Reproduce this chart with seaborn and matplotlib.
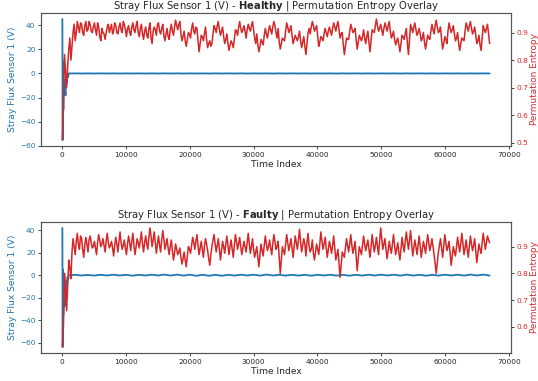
import numpy as np
import pandas as pd
import matplotlib
matplotlib.use("Agg")
import matplotlib.pyplot as plt
import seaborn as sns

# ---------------- data ----------------
PE_STEP = 335  # time-index spacing of permutation entropy samples (main grid)

pe_healthy = [
    0.51, 0.82, 0.70, 0.84, 0.80, 0.90, 0.87, 0.94, 0.90, 0.93,
    0.89, 0.94, 0.91, 0.93, 0.90, 0.935, 0.89, 0.92, 0.87, 0.90,
    0.875, 0.92, 0.90, 0.93, 0.905, 0.925, 0.895, 0.935, 0.90, 0.93,
    0.885, 0.925, 0.89, 0.935, 0.90, 0.94, 0.885, 0.93, 0.875, 0.92,
    0.88, 0.935, 0.86, 0.92, 0.89, 0.935, 0.895, 0.93, 0.87, 0.915,
    0.875, 0.93, 0.89, 0.945, 0.91, 0.94, 0.87, 0.905, 0.85, 0.90,
    0.88, 0.935, 0.895, 0.915, 0.83, 0.89, 0.87, 0.92, 0.845, 0.87,
    0.86, 0.925, 0.90, 0.94, 0.89, 0.92, 0.86, 0.895, 0.835, 0.87,
    0.845, 0.91, 0.89, 0.94, 0.90, 0.925, 0.88, 0.93, 0.905, 0.94,
    0.88, 0.895, 0.83, 0.875, 0.855, 0.915, 0.88, 0.925, 0.895, 0.94,
    0.90, 0.915, 0.84, 0.88, 0.87, 0.935, 0.90, 0.925, 0.86, 0.89,
    0.87, 0.905, 0.845, 0.885, 0.82, 0.90, 0.895, 0.94, 0.905, 0.925,
    0.85, 0.885, 0.87, 0.915, 0.885, 0.92, 0.89, 0.935, 0.905, 0.94,
    0.88, 0.90, 0.82, 0.88, 0.875, 0.93, 0.90, 0.915, 0.84, 0.89,
    0.87, 0.91, 0.86, 0.905, 0.83, 0.91, 0.90, 0.949, 0.905, 0.93,
    0.89, 0.935, 0.905, 0.94, 0.88, 0.905, 0.855, 0.88, 0.83, 0.89,
    0.875, 0.915, 0.82, 0.93, 0.90, 0.935, 0.89, 0.915, 0.87, 0.90,
    0.84, 0.89, 0.875, 0.93, 0.895, 0.945, 0.90, 0.92, 0.84, 0.885,
    0.86, 0.935, 0.90, 0.925, 0.87, 0.90, 0.835, 0.88, 0.87, 0.935,
    0.905, 0.94, 0.895, 0.92, 0.86, 0.89, 0.835, 0.925, 0.90, 0.93,
    0.86,
]
# samples half-way between the main-grid samples
pe_healthy_mid = [
    0.62, 0.76, 0.78, 0.88, 0.85, 0.93, 0.90, 0.92, 0.935, 0.90,
    0.925, 0.905, 0.94, 0.905, 0.92, 0.91, 0.935, 0.885, 0.915, 0.895,
    0.90, 0.93, 0.915, 0.895, 0.935, 0.90, 0.92, 0.91, 0.94, 0.91,
    0.915, 0.90, 0.92, 0.91, 0.925, 0.90, 0.915, 0.895, 0.905, 0.89,
    0.915, 0.88, 0.905, 0.91, 0.93, 0.905, 0.915, 0.89, 0.895, 0.885,
    0.91, 0.905, 0.92, 0.925, 0.93, 0.895, 0.885, 0.87, 0.875, 0.895,
    0.915, 0.905, 0.92, 0.87, 0.86, 0.885, 0.895, 0.875, 0.86, 0.85,
    0.895, 0.915, 0.925, 0.91, 0.905, 0.885, 0.875, 0.86, 0.855, 0.86,
    0.875, 0.905, 0.92, 0.915, 0.91, 0.905, 0.91, 0.915, 0.925, 0.91,
    0.86, 0.855, 0.85, 0.865, 0.89, 0.895, 0.905, 0.91, 0.92, 0.925,
    0.88, 0.865, 0.86, 0.875, 0.905, 0.92, 0.91, 0.89, 0.875, 0.88,
    0.885, 0.87, 0.865, 0.85, 0.86, 0.915, 0.92, 0.925, 0.915, 0.89,
    0.865, 0.88, 0.895, 0.90, 0.905, 0.905, 0.915, 0.92, 0.925, 0.91,
    0.895, 0.855, 0.85, 0.875, 0.905, 0.915, 0.905, 0.875, 0.865, 0.88,
    0.885, 0.88, 0.885, 0.865, 0.87, 0.905, 0.925, 0.925, 0.915, 0.91,
    0.915, 0.92, 0.925, 0.905, 0.89, 0.875, 0.87, 0.855, 0.86, 0.885,
    0.895, 0.86, 0.875, 0.915, 0.92, 0.91, 0.90, 0.895, 0.88, 0.865,
    0.865, 0.88, 0.905, 0.91, 0.925, 0.92, 0.905, 0.875, 0.86, 0.875,
    0.905, 0.915, 0.91, 0.895, 0.88, 0.86, 0.86, 0.875, 0.905, 0.92,
    0.925, 0.915, 0.905, 0.89, 0.87, 0.855, 0.88, 0.91, 0.915, 0.895,
]

pe_faulty = [
    0.524, 0.80, 0.66, 0.85, 0.78, 0.93, 0.87, 0.95, 0.89, 0.93,
    0.86, 0.935, 0.88, 0.94, 0.895, 0.92, 0.87, 0.945, 0.90, 0.93,
    0.88, 0.95, 0.895, 0.92, 0.865, 0.935, 0.88, 0.955, 0.89, 0.925,
    0.87, 0.94, 0.885, 0.95, 0.87, 0.93, 0.895, 0.955, 0.88, 0.94,
    0.89, 0.97, 0.90, 0.955, 0.875, 0.94, 0.88, 0.96, 0.89, 0.93,
    0.87, 0.925, 0.85, 0.91, 0.87, 0.895, 0.835, 0.88, 0.825, 0.90,
    0.875, 0.935, 0.89, 0.945, 0.87, 0.92, 0.86, 0.93, 0.885, 0.83,
    0.90, 0.945, 0.88, 0.93, 0.85, 0.92, 0.875, 0.94, 0.87, 0.925,
    0.86, 0.945, 0.89, 0.935, 0.87, 0.92, 0.88, 0.95, 0.875, 0.93,
    0.86, 0.90, 0.825, 0.91, 0.865, 0.94, 0.885, 0.925, 0.87, 0.945,
    0.89, 0.92, 0.80, 0.90, 0.87, 0.945, 0.885, 0.93, 0.86, 0.94,
    0.89, 0.965, 0.88, 0.93, 0.865, 0.95, 0.88, 0.925, 0.85, 0.91,
    0.87, 0.955, 0.89, 0.935, 0.86, 0.92, 0.875, 0.94, 0.85, 0.89,
    0.785, 0.88, 0.86, 0.93, 0.88, 0.945, 0.875, 0.92, 0.81, 0.90,
    0.87, 0.94, 0.885, 0.925, 0.86, 0.945, 0.88, 0.935, 0.87, 0.97,
    0.89, 0.93, 0.855, 0.92, 0.875, 0.945, 0.87, 0.915, 0.85, 0.935,
    0.88, 0.955, 0.89, 0.96, 0.865, 0.925, 0.87, 0.94, 0.86, 0.92,
    0.875, 0.945, 0.885, 0.93, 0.87, 0.80, 0.88, 0.93, 0.86, 0.945,
    0.885, 0.92, 0.83, 0.90, 0.865, 0.935, 0.88, 0.95, 0.87, 0.925,
    0.86, 0.94, 0.885, 0.93, 0.84, 0.91, 0.875, 0.95, 0.89, 0.94,
    0.915,
]
pe_faulty_mid = [
    0.60, 0.74, 0.76, 0.82, 0.88, 0.90, 0.92, 0.91, 0.94, 0.89,
    0.905, 0.91, 0.925, 0.915, 0.90, 0.895, 0.915, 0.925, 0.91, 0.905,
    0.92, 0.915, 0.905, 0.895, 0.905, 0.91, 0.92, 0.915, 0.905, 0.895,
    0.91, 0.915, 0.92, 0.905, 0.90, 0.915, 0.925, 0.91, 0.915, 0.91,
    0.935, 0.94, 0.925, 0.915, 0.91, 0.905, 0.925, 0.93, 0.91, 0.895,
    0.90, 0.885, 0.875, 0.89, 0.88, 0.86, 0.855, 0.85, 0.865, 0.89,
    0.905, 0.915, 0.92, 0.905, 0.895, 0.89, 0.90, 0.91, 0.855, 0.87,
    0.925, 0.91, 0.905, 0.89, 0.885, 0.90, 0.91, 0.905, 0.90, 0.89,
    0.905, 0.92, 0.91, 0.90, 0.895, 0.90, 0.915, 0.91, 0.90, 0.89,
    0.88, 0.86, 0.87, 0.885, 0.905, 0.91, 0.90, 0.895, 0.91, 0.92,
    0.90, 0.86, 0.85, 0.885, 0.91, 0.915, 0.905, 0.895, 0.90, 0.915,
    0.925, 0.92, 0.905, 0.91, 0.915, 0.90, 0.89, 0.875, 0.88, 0.89,
    0.91, 0.92, 0.91, 0.895, 0.89, 0.90, 0.905, 0.895, 0.87, 0.835,
    0.83, 0.87, 0.895, 0.905, 0.91, 0.905, 0.895, 0.865, 0.855, 0.885,
    0.905, 0.91, 0.905, 0.89, 0.90, 0.91, 0.905, 0.90, 0.92, 0.93,
    0.91, 0.89, 0.885, 0.895, 0.91, 0.905, 0.89, 0.88, 0.89, 0.905,
    0.92, 0.92, 0.925, 0.91, 0.895, 0.90, 0.905, 0.90, 0.89, 0.90,
    0.91, 0.915, 0.905, 0.90, 0.835, 0.84, 0.905, 0.895, 0.90, 0.915,
    0.90, 0.875, 0.865, 0.88, 0.90, 0.905, 0.915, 0.91, 0.895, 0.89,
    0.90, 0.91, 0.905, 0.885, 0.875, 0.89, 0.915, 0.92, 0.915, 0.925,
]

# stray flux signal: start-up transient then steady tail
flux_onset_idx = [0, 50, 100, 150, 200, 300, 400, 500, 600, 700, 800, 900, 1000]
flux_healthy_onset = [45, -55, 10, -30, -5, -18, -12, -18, -3, -8, -1, -3, 0]
flux_faulty_onset = [42, -64, 5, -35, -10, -28, -15, -27, -5, -12, -2, -4, 0]

TAIL_STEP = 1000
flux_healthy_tail = [
    0.05, -0.05, 0.05, -0.05, 0.05, -0.05, 0.05, -0.05, 0.05, -0.05,
    0.05, -0.05, 0.05, -0.05, 0.05, -0.05, 0.05, -0.05, 0.05, -0.05,
    0.05, -0.05, 0.05, -0.05, 0.05, -0.05, 0.05, -0.05, 0.05, -0.05,
    0.05, -0.05, 0.05, -0.05, 0.05, -0.05, 0.05, -0.05, 0.05, -0.05,
    0.05, -0.05, 0.05, -0.05, 0.05, -0.05, 0.05, -0.05, 0.05, -0.05,
    0.05, -0.05, 0.05, -0.05, 0.05, -0.05, 0.05, -0.05, 0.05, -0.05,
    0.05, -0.05, 0.05, -0.05, 0.05, -0.05,
]
flux_faulty_tail = [
    0.3, -0.3, 0.2, -0.4, 0.3, -0.3, 0.4, -0.3, 0.3, -0.5,
    0.3, -0.3, 0.4, -0.3, 0.5, -0.4, 0.5, -0.4, 0.4, -0.6,
    0.3, -0.5, 0.3, -0.6, 0.3, -0.4, 0.4, -0.3, 0.4, -0.4,
    0.5, -0.3, 0.3, -0.4, 0.3, -0.4, 0.3, -0.5, 0.3, -0.3,
    0.3, -0.4, 0.3, -0.5, 0.3, -0.4, 0.4, -0.3, 0.4, -0.3,
    0.4, -0.4, 0.5, -0.4, 0.3, -0.5, 0.3, -0.4, 0.4, -0.3,
    0.4, -0.4, 0.5, -0.3, 0.5, -0.4,
]

panels = [
    ("Healthy", flux_healthy_onset, flux_healthy_tail, pe_healthy, pe_healthy_mid),
    ("Faulty", flux_faulty_onset, flux_faulty_tail, pe_faulty, pe_faulty_mid),
]

BLUE = "#1f77b4"
RED = "#d62728"

sns.set_theme(style="ticks")
plt.rcParams["font.family"] = ["DejaVu Sans"]

fig = plt.figure(figsize=(5.38, 3.81), dpi=100)
positions = [
    [41 / 538, 1 - 146 / 381, 470 / 538, 133 / 381],
    [41 / 538, 1 - 353 / 381, 470 / 538, 131 / 381],
]

for pos, (name, onset, tail, pe, pe_mid) in zip(positions, panels):
    ax = fig.add_axes(pos)
    tail_idx = [flux_onset_idx[-1] + TAIL_STEP * (k + 1) for k in range(len(tail))]
    flux_df = pd.DataFrame({"t": flux_onset_idx + tail_idx, "v": onset + tail})
    pe_df = pd.concat([
        pd.DataFrame({"t": [PE_STEP * k for k in range(len(pe))], "v": pe}),
        pd.DataFrame({"t": [PE_STEP * k + PE_STEP / 2 for k in range(len(pe_mid))], "v": pe_mid}),
    ]).sort_values("t").reset_index(drop=True)

    sns.lineplot(data=flux_df, x="t", y="v", ax=ax, color=BLUE,
                 linewidth=1.3, estimator=None)
    ax.set_xlabel("Time Index", fontsize=6.6, labelpad=1.5)
    ax.set_ylabel("Stray Flux Sensor 1 (V)", color=BLUE, fontsize=6.6, labelpad=2)
    ax.tick_params(axis="y", labelcolor=BLUE, labelsize=5.3, length=2.5, width=0.6, pad=1.5)
    ax.tick_params(axis="x", labelsize=5.3, length=2.5, width=0.6, pad=1.5)

    ax2 = ax.twinx()
    sns.lineplot(data=pe_df, x="t", y="v", ax=ax2, color=RED,
                 linewidth=1.1, estimator=None, sort=False)
    ax2.set_ylabel("Permutation Entropy", color=RED, fontsize=6.4, labelpad=1)
    ax2.tick_params(axis="y", labelcolor=RED, labelsize=5.3, length=2.5, width=0.6, pad=1.5)
    ax2.set_xlabel("")

    for a in (ax, ax2):
        for s in a.spines.values():
            s.set_linewidth(0.8)
            s.set_color("#555555")

    ax.set_title(f"Stray Flux Sensor 1 (V) - $\\bf{{{name}}}$ | Permutation Entropy Overlay",
                 fontsize=7.2, pad=3)

fig.savefig("out.png", dpi=100)
